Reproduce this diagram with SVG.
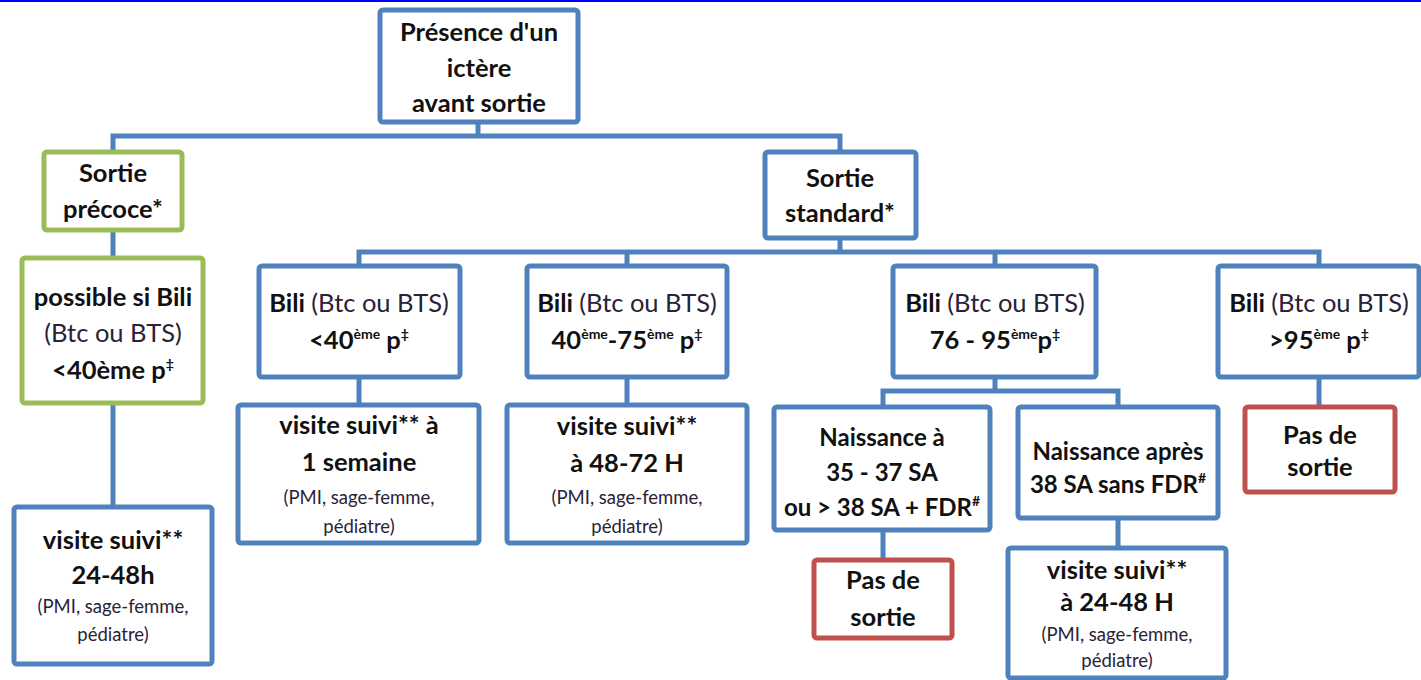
<svg xmlns="http://www.w3.org/2000/svg" width="1421" height="680" viewBox="0 0 1421 680">
<style>
.box{fill:#fff;stroke-width:5;}
.b{stroke:#4f81bd;}
.g{stroke:#9bbb59;}
.r{stroke:#c0504d;}
.con{fill:none;stroke:#4f81bd;stroke-width:5;}
text{font-family:Lato,"Liberation Sans",sans-serif;text-anchor:middle;fill:#111;}
.t{font-size:25.5px;font-weight:bold;}
.m{font-size:24px;}
.n{font-weight:normal;fill:#2a2238;}
.s{font-size:18.5px;font-weight:normal;fill:#2a2238;}
.sup{font-size:14px;}
</style>
<rect x="0" y="0" width="1421" height="2" fill="#0000ff"/>
<g id="connectors">
<path class="con" d="M478,122V136M113,152V136H840V152"/>
<path class="con" d="M113,230V258M113,403V507"/>
<path class="con" d="M840,238V252M359,266V252H1319V266M627,252V266M995,252V266"/>
<path class="con" d="M359,377V405M627,377V405M1319,377V407"/>
<path class="con" d="M995,377V391M883,407V391H1118V407"/>
<path class="con" d="M883,530V560M1118,518V548"/>
</g>
<g id="root"><rect class="box b" x="380" y="10" width="198" height="112" rx="3"/>
<text class="t" x="479" y="41">Présence d'un</text><text class="t" x="479" y="77">ictère</text><text class="t" x="479" y="112">avant sortie</text></g>
<g id="precoce"><rect class="box g" x="44" y="152" width="138" height="78" rx="3"/>
<text class="t" x="113" y="182">Sortie</text><text class="t" x="113" y="218">précoce*</text></g>
<g id="standard"><rect class="box b" x="765" y="152" width="151" height="86" rx="3"/>
<text class="t" x="840" y="187">Sortie</text><text class="t" x="840" y="222">standard*</text></g>
<g id="possible"><rect class="box g" x="22" y="258" width="181" height="145" rx="3"/>
<text class="t" x="113" y="306">possible si Bili</text><text class="t n" x="113" y="342">(Btc ou BTS)</text><text class="t" x="113" y="379">&lt;40ème p<tspan class="sup" dy="-10">‡</tspan></text></g>
<g id="visite2448h"><rect class="box b" x="14" y="507" width="198" height="157" rx="3"/>
<text class="t" x="113" y="549">visite suivi**</text><text class="t" x="113" y="584">24-48h</text><text class="s" x="113" y="613">(PMI, sage-femme,</text><text class="s" x="113" y="641">pédiatre)</text></g>
<g id="bili1"><rect class="box b" x="259" y="266" width="201" height="111" rx="3"/>
<text class="t" x="359" y="312">Bili <tspan class="n">(Btc ou BTS)</tspan></text><text class="t" x="359" y="349">&lt;40<tspan class="sup" dy="-10">ème</tspan><tspan dy="10"> p</tspan><tspan class="sup" dy="-10">‡</tspan></text></g>
<g id="bili2"><rect class="box b" x="527" y="266" width="200" height="111" rx="3"/>
<text class="t" x="627" y="312">Bili <tspan class="n">(Btc ou BTS)</tspan></text><text class="t" x="627" y="349">40<tspan class="sup" dy="-10">ème</tspan><tspan dy="10">-75</tspan><tspan class="sup" dy="-10">ème</tspan><tspan dy="10"> p</tspan><tspan class="sup" dy="-10">‡</tspan></text></g>
<g id="bili3"><rect class="box b" x="893" y="266" width="203" height="111" rx="3"/>
<text class="t" x="995" y="312">Bili <tspan class="n">(Btc ou BTS)</tspan></text><text class="t" x="995" y="349">76 - 95<tspan class="sup" dy="-10">ème</tspan><tspan dy="10">p</tspan><tspan class="sup" dy="-10">‡</tspan></text></g>
<g id="bili4"><rect class="box b" x="1218" y="266" width="201" height="111" rx="3"/>
<text class="t" x="1319" y="312">Bili <tspan class="n">(Btc ou BTS)</tspan></text><text class="t" x="1319" y="349">&gt;95<tspan class="sup" dy="-10">ème</tspan><tspan dy="10"> p</tspan><tspan class="sup" dy="-10">‡</tspan></text></g>
<g id="visite1sem"><rect class="box b" x="238" y="405" width="241" height="138" rx="3"/>
<text class="t" x="359" y="434">visite suivi** à</text><text class="t" x="359" y="471">1 semaine</text><text class="s" x="359" y="504">(PMI, sage-femme,</text><text class="s" x="359" y="533">pédiatre)</text></g>
<g id="visite4872"><rect class="box b" x="507" y="405" width="240" height="138" rx="3"/>
<text class="t" x="627" y="435">visite suivi**</text><text class="t" x="627" y="472">à 48-72 H</text><text class="s" x="627" y="504">(PMI, sage-femme,</text><text class="s" x="627" y="533">pédiatre)</text></g>
<g id="naissance35"><rect class="box b" x="774" y="407" width="216" height="123" rx="3"/>
<text class="t m" x="882" y="446">Naissance à</text><text class="t m" x="882" y="481">35 - 37 SA</text><text class="t m" x="882" y="516">ou &gt; 38 SA + FDR<tspan class="sup" dy="-10">#</tspan></text></g>
<g id="naissance38"><rect class="box b" x="1018" y="407" width="200" height="111" rx="3"/>
<text class="t m" x="1118" y="460">Naissance après</text><text class="t m" x="1118" y="493">38 SA sans FDR<tspan class="sup" dy="-10">#</tspan></text></g>
<g id="pas1"><rect class="box r" x="1245" y="407" width="150" height="85" rx="3"/>
<text class="t" x="1320" y="444">Pas de</text><text class="t" x="1320" y="476">sortie</text></g>
<g id="pas2"><rect class="box r" x="814" y="560" width="138" height="78" rx="3"/>
<text class="t" x="883" y="589">Pas de</text><text class="t" x="883" y="626">sortie</text></g>
<g id="visite2448H"><rect class="box b" x="1008" y="548" width="218" height="130" rx="3"/>
<text class="t" x="1117" y="579">visite suivi**</text><text class="t" x="1117" y="611">à 24-48 H</text><text class="s" x="1117" y="641">(PMI, sage-femme,</text><text class="s" x="1117" y="667">pédiatre)</text></g>
</svg>
